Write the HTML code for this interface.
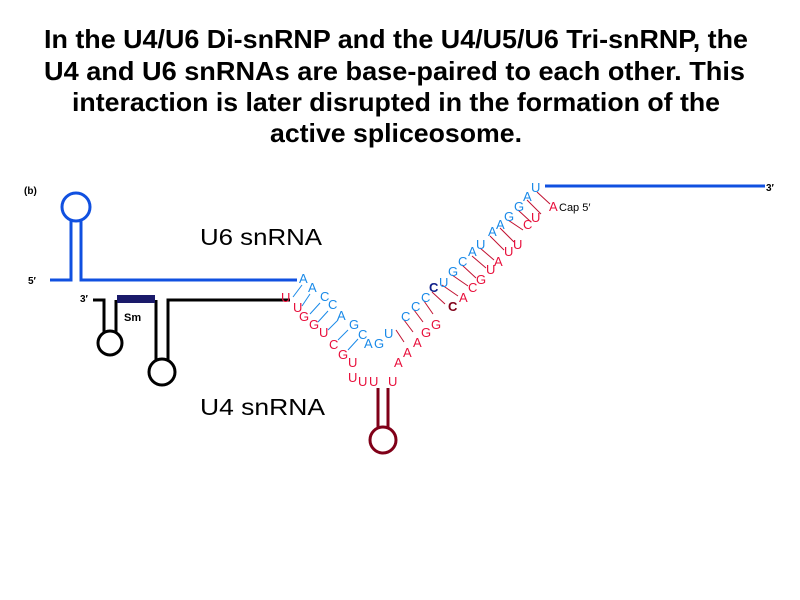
<!DOCTYPE html>
<html><head><meta charset="utf-8"><style>
html,body{margin:0;padding:0;background:#fff;width:800px;height:600px;overflow:hidden}
svg{display:block}
.t{font-family:"Liberation Sans",sans-serif;font-weight:bold;font-size:26px;fill:#000}
.b{font-family:"Liberation Sans",sans-serif;font-size:13px;fill:#1a8ae8}
.r{font-family:"Liberation Sans",sans-serif;font-size:13px;fill:#e8103c}
</style></head><body>
<svg width="800" height="600" viewBox="0 0 800 600" xmlns="http://www.w3.org/2000/svg">
<text class="t" x="44" y="48" textLength="704" lengthAdjust="spacingAndGlyphs">In the U4/U6 Di-snRNP and the U4/U5/U6 Tri-snRNP, the</text>
<text class="t" x="44" y="80" textLength="701" lengthAdjust="spacingAndGlyphs">U4 and U6 snRNAs are base-paired to each other.  This</text>
<text class="t" x="72" y="111" textLength="648" lengthAdjust="spacingAndGlyphs">interaction is later disrupted in the formation of the</text>
<text class="t" x="270" y="142" textLength="252" lengthAdjust="spacingAndGlyphs">active spliceosome.</text>

<text x="24" y="194" font-family="Liberation Sans" font-weight="bold" font-size="10">(b)</text>
<text x="28" y="284" font-family="Liberation Sans" font-weight="bold" font-size="10">5′</text>
<text x="80" y="302" font-family="Liberation Sans" font-weight="bold" font-size="10">3′</text>
<text x="124" y="321" font-family="Liberation Sans" font-weight="bold" font-size="11">Sm</text>
<text x="766" y="191" font-family="Liberation Sans" font-weight="bold" font-size="10">3′</text>
<text x="200" y="245" font-family="Liberation Sans" font-size="23" textLength="122" lengthAdjust="spacingAndGlyphs">U6 snRNA</text>
<text x="200" y="415" font-family="Liberation Sans" font-size="23" textLength="125" lengthAdjust="spacingAndGlyphs">U4 snRNA</text>

<g stroke="#1050e0" stroke-width="3" fill="none">
<path d="M50 280 H71 V221"/>
<path d="M81 221 V280 H297"/>
<circle cx="76" cy="207" r="14"/>
<path d="M545 186 H765"/>
</g>
<g stroke="#000" stroke-width="3" fill="none">
<path d="M93 300 H104 V332"/>
<path d="M116 300 V332"/>
<circle cx="110" cy="343" r="12"/>
<path d="M156 300 V360"/>
<path d="M168 360 V300 H290"/>
<circle cx="162" cy="372" r="13"/>
</g>
<rect x="117" y="295" width="38" height="8" fill="#1a1a6a"/>
<g stroke="#800018" stroke-width="3" fill="none">
<path d="M378 388 V428"/><path d="M388 388 V428"/>
<circle cx="383" cy="440" r="13"/>
</g>

<g stroke-width="1">
<g stroke="#1a8ae8">
<path d="M302 285 L293 297"/><path d="M310 294 L302 306"/><path d="M320 303 L310 314"/><path d="M328 311 L318 322"/><path d="M338 320 L328 330"/><path d="M348 330 L338 340"/><path d="M358 339 L348 350"/>
</g>
<g stroke="#c01030">
<path d="M396 330 L404 342"/><path d="M404 320 L413 332"/><path d="M414 310 L423 322"/><path d="M424 301 L433 314"/><path d="M432 292 L445 304"/><path d="M442 285 L458 296"/><path d="M452 275 L468 286"/><path d="M462 265 L476 278"/><path d="M472 256 L486 268"/><path d="M480 248 L494 260"/><path d="M490 236 L504 250"/><path d="M500 228 L514 242"/><path d="M508 220 L523 230"/><path d="M518 210 L531 222"/><path d="M527 200 L541 214"/><path d="M537 192 L550 204"/>
</g>
</g>

<g class="b">
<text x="299" y="283">A</text><text x="308" y="292">A</text><text x="320" y="301">C</text><text x="328" y="309">C</text><text x="337" y="320">A</text><text x="349" y="329">G</text><text x="358" y="339">C</text><text x="364" y="348">A</text><text x="374" y="348">G</text>
<text x="384" y="338">U</text><text x="401" y="321">C</text><text x="411" y="311">C</text><text x="421" y="302">C</text><text x="429" y="292" fill="#10208a" font-weight="bold">C</text><text x="439" y="287">U</text><text x="448" y="276">G</text><text x="458" y="266">C</text><text x="468" y="256">A</text><text x="476" y="249">U</text><text x="488" y="236">A</text><text x="496" y="229">A</text><text x="504" y="221">G</text><text x="514" y="211">G</text><text x="523" y="201">A</text><text x="531" y="192">U</text>
</g>
<g class="r">
<text x="281" y="302">U</text><text x="293" y="312">U</text><text x="299" y="321">G</text><text x="309" y="329">G</text><text x="319" y="337">U</text><text x="329" y="349">C</text><text x="338" y="359">G</text><text x="348" y="367">U</text>
<text x="348" y="382">U</text><text x="358" y="386">U</text><text x="369" y="386">U</text><text x="388" y="386">U</text>
<text x="394" y="367">A</text><text x="403" y="357">A</text><text x="413" y="347">A</text><text x="421" y="337">G</text><text x="431" y="329">G</text><text x="448" y="311" fill="#800018" font-weight="bold">C</text><text x="459" y="302">A</text><text x="468" y="292">C</text><text x="476" y="284">G</text><text x="486" y="274">U</text><text x="494" y="266">A</text><text x="504" y="256">U</text><text x="513" y="249">U</text><text x="523" y="229">C</text><text x="531" y="222">U</text><text x="549" y="211">A</text>
</g>
<text x="559" y="211" font-family="Liberation Sans" font-size="11" fill="#000">Cap 5′</text>
</svg>
</body></html>
